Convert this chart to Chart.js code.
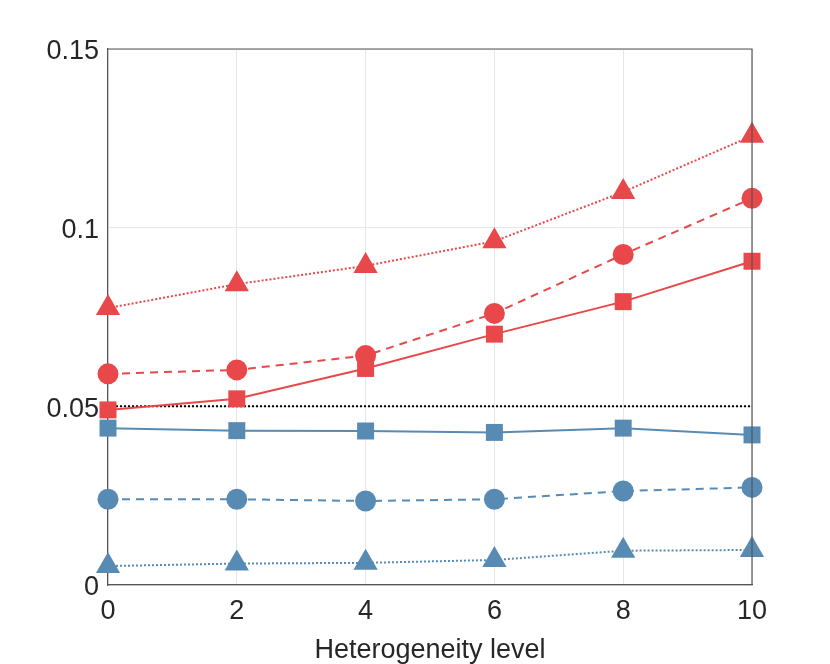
<!DOCTYPE html>
<html>
<head>
<meta charset="utf-8">
<script src="https://cdn.jsdelivr.net/npm/chart.js@4.4.1/dist/chart.umd.min.js"></script>
<style>
  html, body { margin: 0; padding: 0; background: #fff; }
  #wrap { width: 830px; height: 664px; }
</style>
</head>
<body>
<div id="wrap"><canvas id="lineChart" width="830" height="664"></canvas></div>
<script>
// heterogeneity levels on x axis
const levels = [0, 2, 4, 6, 8, 10]
const yTicks = [0, 0.05, 0.1, 0.15]
const xTitle = 'Heterogeneity level'

// red series
const redSquare = [0.0490, 0.0521, 0.0606, 0.0702, 0.0793, 0.0906]
const redCircle = [0.0591, 0.0602, 0.0642, 0.0760, 0.0925, 0.1082]
const redTriangle = [0.0775, 0.0842, 0.0893, 0.0962, 0.1100, 0.1257]

// blue series
const blueSquare = [0.0439, 0.0432, 0.0431, 0.0427, 0.0439, 0.0420]
const blueCircle = [0.0240, 0.0240, 0.0235, 0.0240, 0.0263, 0.0273]
const blueTriangle = [0.0053, 0.0060, 0.0062, 0.0070, 0.0096, 0.0098]

// nominal level
const refLevel = [0.05, 0.05, 0.05, 0.05, 0.05, 0.05]

const red = 'rgb(232, 72, 74)'
const blue = 'rgb(88, 139, 180)'
const fontFamily = 'Liberation Sans, Arial, sans-serif'

const toPoints = vals => vals.map((v, i) => ({ x: levels[i], y: v }))

function series(vals, color, shape, radius, dash) {
  return {
    data: toPoints(vals),
    borderColor: color,
    backgroundColor: color,
    borderWidth: 2,
    borderDash: dash,
    pointStyle: shape,
    pointRadius: radius,
    pointHoverRadius: radius,
    pointBorderWidth: 0,
    clip: false
  }
}

// top and right edges of the box
const frame = {
  id: 'frame',
  afterDatasetsDraw(chart) {
    const a = chart.chartArea
    const c = chart.ctx
    c.save()
    c.strokeStyle = '#555'
    c.lineWidth = 1.2
    c.beginPath()
    c.moveTo(a.left, a.top)
    c.lineTo(a.right, a.top)
    c.lineTo(a.right, a.bottom)
    c.stroke()
    c.restore()
  }
}

const ctx = document.getElementById('lineChart').getContext('2d')

const lineChart = new Chart(ctx, {
  type: 'line',
  data: {
    datasets: [
      series(redSquare, red, 'rect', 12, []),
      series(redCircle, red, 'circle', 10.5, [8, 6]),
      series(redTriangle, red, 'triangle', 14, [2, 2]),
      series(blueSquare, blue, 'rect', 12, []),
      series(blueCircle, blue, 'circle', 10.5, [8, 6]),
      series(blueTriangle, blue, 'triangle', 14, [2, 2]),
      {
        data: toPoints(refLevel),
        borderColor: '#000',
        borderWidth: 2,
        borderDash: [2, 2],
        pointRadius: 0,
        order: 10
      }
    ]
  },
  options: {
    responsive: false,
    animation: false,
    layout: { padding: { left: 0, right: 78, top: 49, bottom: 0 } },
    plugins: { legend: { display: false }, tooltip: { enabled: false } },
    scales: {
      x: {
        type: 'linear',
        min: 0,
        max: 10,
        afterBuildTicks: s => { s.ticks = levels.map(v => ({ value: v })) },
        afterFit: s => { s.height = 79 },
        grid: { color: '#e6e6e6', lineWidth: 1, drawTicks: false },
        border: { color: '#555', width: 1.2 },
        ticks: {
          color: '#262626',
          font: { family: fontFamily, size: 27 },
          padding: 10,
          maxRotation: 0
        },
        title: {
          display: true,
          text: xTitle,
          color: '#262626',
          font: { family: fontFamily, size: 27 },
          padding: { top: 0, bottom: -3 }
        }
      },
      y: {
        min: 0,
        max: 0.15,
        afterBuildTicks: s => { s.ticks = yTicks.map(v => ({ value: v })) },
        afterFit: s => { s.width = 108 },
        grid: { color: '#e6e6e6', lineWidth: 1, drawTicks: false },
        border: { color: '#555', width: 1.2 },
        ticks: {
          color: '#262626',
          font: { family: fontFamily, size: 27 },
          padding: 9,
          labelOffset: 3,
          callback: v => String(v)
        }
      }
    }
  },
  plugins: [frame]
})
</script>
</body>
</html>
